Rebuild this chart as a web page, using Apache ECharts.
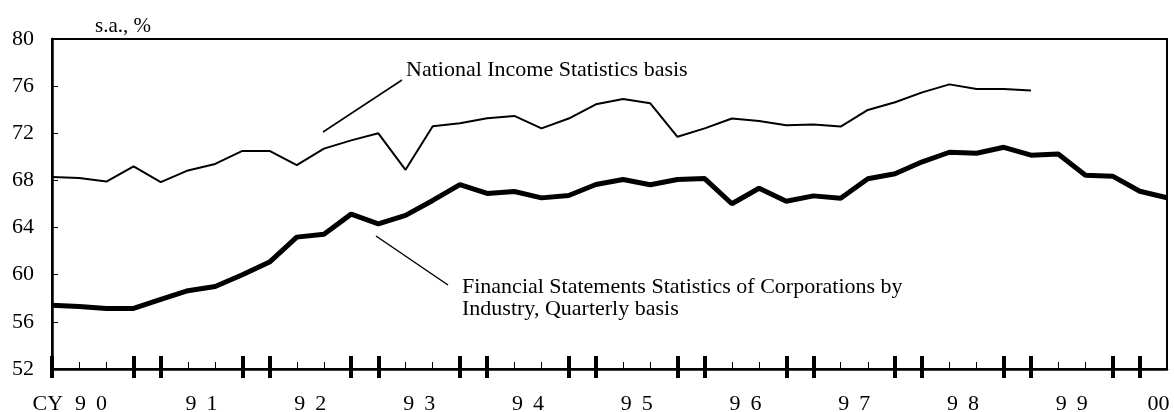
<!DOCTYPE html>
<html>
<head>
<meta charset="utf-8">
<script src="https://cdn.jsdelivr.net/npm/echarts@6/dist/echarts.min.js"></script>
<style>
html,body{margin:0;padding:0;background:#fff;}
#chart{width:1174px;height:412px;}
</style>
</head>
<body>
<div id="chart"></div>
<script>
const quarters = [
  '1990Q1','1990Q2','1990Q3','1990Q4','1991Q1','1991Q2','1991Q3','1991Q4',
  '1992Q1','1992Q2','1992Q3','1992Q4','1993Q1','1993Q2','1993Q3','1993Q4',
  '1994Q1','1994Q2','1994Q3','1994Q4','1995Q1','1995Q2','1995Q3','1995Q4',
  '1996Q1','1996Q2','1996Q3','1996Q4','1997Q1','1997Q2','1997Q3','1997Q4',
  '1998Q1','1998Q2','1998Q3','1998Q4','1999Q1','1999Q2','1999Q3','1999Q4',
  '2000Q1','2000Q2'
];
const nationalIncomeBasis = [
  68.3, 68.2, 67.9, 69.2, 67.85, 68.85, 69.4, 70.5,
  70.5, 69.3, 70.7, 71.4, 72.0, 68.9, 72.6, 72.85,
  73.27, 73.47, 72.42, 73.25, 74.46, 74.9, 74.54, 71.7,
  72.42, 73.25, 73.05, 72.68, 72.74, 72.57, 73.98, 74.63,
  75.47, 76.15, 75.76, 75.76, 75.64, null, null, null,
  null, null
];
const financialStatementsBasis = [
  57.4, 57.31, 57.14, 57.14, 57.9, 58.64, 59.0, 60.0,
  61.07, 63.19, 63.44, 65.14, 64.32, 65.03, 66.3, 67.65,
  66.9, 67.06, 66.52, 66.72, 67.65, 68.08, 67.63, 68.08,
  68.16, 66.02, 67.34, 66.24, 66.69, 66.49, 68.14, 68.56,
  69.58, 70.39, 70.31, 70.81, 70.14, 70.25, 68.44, 68.36,
  67.08, 66.53
];
const yearLabels = ['90','91','92','93','94','95','96','97','98','99','00'];
const yMin = 52, yMax = 80, yStep = 4;

const FONT = 'Liberation Serif';
const chart = echarts.init(document.getElementById('chart'), null, {renderer:'canvas'});

function yearText(index){
  if (index === 40) { return '{w| }{d|' + yearLabels[10] + '}'; }
  if (index % 4 !== 1 || index > 40) return '';
  const y = yearLabels[(index - 1) / 4];
  const core = '{d|' + y[0] + '}{s| }{d|' + y[1] + '}';
  if (index === 1) return '{d|CY}{g| }' + core + '{r| }';
  return '{l| }' + core;
}
function bigTick(index){ return (index % 4 === 0 || index % 4 === 3) && index <= 40; }

const baseX = {
  type: 'category', data: quarters, boundaryGap: false, position: 'bottom',
  splitLine: {show:false}
};

chart.setOption({
  animation: false,
  backgroundColor: '#fff',
  grid: {left: 52, right: 7, top: 39, bottom: 43, show: true, borderColor: '#000', borderWidth: 2,
         backgroundColor: 'transparent', containLabel: false, outerBoundsMode: 'none'},
  xAxis: [
    Object.assign({}, baseX, {
      axisLine: {show: true, lineStyle: {color: '#000', width: 2.5}},
      axisTick: {show: true, inside: true, length: 7, interval: 0, lineStyle: {color: '#000', width: 1}},
      axisLabel: {
        show: true, interval: 0, margin: 24, color: '#000', hideOverlap: false,
        formatter: function(v, i){ return yearText(i); },
        rich: {
          d: {fontFamily: FONT, fontSize: 22, color: '#000'},
          s: {width: 10, fontSize: 22},
          g: {width: 12, fontSize: 22},
          r: {width: 18.8, fontSize: 22},
          l: {width: 27.2, fontSize: 22},
          w: {width: 37.4, fontSize: 22}
        }
      }
    }),
    Object.assign({}, baseX, {
      axisLine: {show: false},
      axisTick: {show: true, inside: true, length: 13, interval: function(i){ return bigTick(i); }, lineStyle: {color: '#000', width: 4}},
      axisLabel: {show: false}
    }),
    Object.assign({}, baseX, {
      axisLine: {show: false},
      axisTick: {show: true, inside: false, length: 9, interval: function(i){ return bigTick(i); }, lineStyle: {color: '#000', width: 4}},
      axisLabel: {show: false}
    })
  ],
  yAxis: {
    type: 'value', min: yMin, max: yMax, interval: yStep,
    axisLine: {show: true, lineStyle: {color: '#000', width: 2.5}},
    axisTick: {show: true, inside: true, length: 6, lineStyle: {color: '#000', width: 1}},
    splitLine: {show: false},
    axisLabel: {color: '#000', fontFamily: FONT, fontSize: 22, margin: 18}
  },
  series: [
    {
      name: 'National Income Statistics basis', type: 'line', xAxisIndex: 0,
      data: nationalIncomeBasis, showSymbol: false, symbol: 'none', connectNulls: false,
      lineStyle: {color: '#000', width: 2}, z: 3
    },
    {
      name: 'Financial Statements Statistics of Corporations by Industry, Quarterly basis', type: 'line', xAxisIndex: 0,
      data: financialStatementsBasis, showSymbol: false, symbol: 'none',
      lineStyle: {color: '#000', width: 5}, z: 3
    }
  ],
  graphic: [
    {type: 'text', style: {text: 's.a., %', x: 95, y: 26, fill: '#000', font: '21px "Liberation Serif"', textVerticalAlign: 'middle'}},
    {type: 'line', shape: {x1: 323, y1: 132, x2: 402, y2: 80}, style: {stroke: '#000', lineWidth: 1.5}},
    {type: 'text', style: {text: 'National Income Statistics basis', x: 406, y: 70, fill: '#000', font: '22px "Liberation Serif"', textVerticalAlign: 'middle'}},
    {type: 'line', shape: {x1: 376, y1: 236, x2: 448, y2: 285}, style: {stroke: '#000', lineWidth: 1.5}},
    {type: 'text', style: {text: 'Financial Statements Statistics of Corporations by', x: 462, y: 287, fill: '#000', font: '22px "Liberation Serif"', textVerticalAlign: 'middle'}},
    {type: 'text', style: {text: 'Industry, Quarterly basis', x: 462, y: 309, fill: '#000', font: '22px "Liberation Serif"', textVerticalAlign: 'middle'}}
  ]
});
</script>
</body>
</html>
